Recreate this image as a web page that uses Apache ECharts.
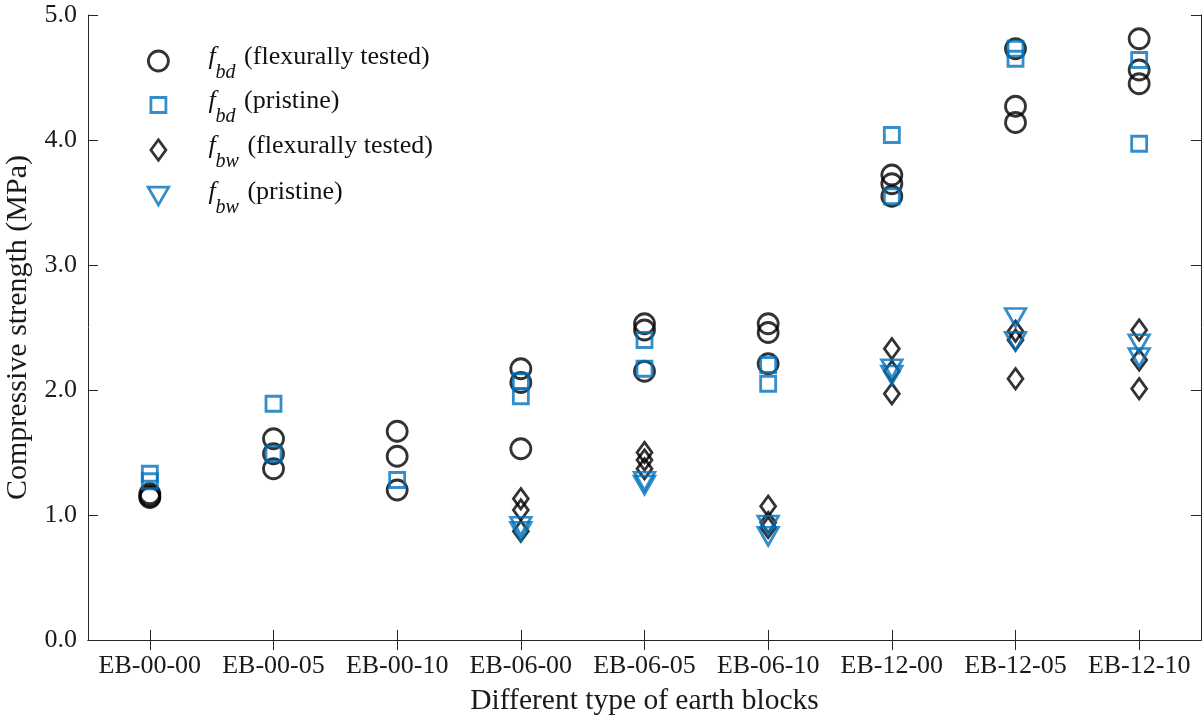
<!DOCTYPE html>
<html><head><meta charset="utf-8">
<script src="https://cdn.jsdelivr.net/npm/echarts@6/dist/echarts.min.js"></script>
<style>html,body{margin:0;padding:0;background:#fff}#c{width:1203px;height:719px}</style>
</head><body><div id="c"></div>
<script>
const categories = ['EB-00-00','EB-00-05','EB-00-10','EB-06-00','EB-06-05','EB-06-10','EB-12-00','EB-12-05','EB-12-10'];
const yMin = 0, yMax = 5, yStep = 1;
// values per category
const fbdFlexural = [[1.17,1.15,1.14],[1.61,1.49,1.37],[1.67,1.47,1.20],[2.17,2.06,1.53],[2.53,2.48,2.15],[2.53,2.46,2.21],[3.72,3.65,3.55],[4.73,4.27,4.14],[4.81,4.56,4.45]];
const fbdPristine = [[1.33,1.27],[1.89,1.49],[1.28],[2.07,1.95],[2.40,2.17],[2.20,2.05],[4.04,3.55],[4.73,4.65],[4.64,3.97]];
const fbwFlexural = [[],[],[],[1.13,1.04,0.87],[1.50,1.44,1.37],[1.07,0.94,0.90],[2.33,2.15,1.97],[2.47,2.40,2.09],[2.48,2.24,2.01]];
const fbwPristine = [[],[],[],[0.91,0.87],[1.27,1.24],[0.92,0.83],[2.17,2.12],[2.58,2.39],[2.37,2.26]];
const seriesNames = ['fbd (flexurally tested)','fbd (pristine)','fbw (flexurally tested)','fbw (pristine)'];
const legendSub = ['bd','bd','bw','bw'];
const legendRest = [' (flexurally tested)',' (pristine)',' (flexurally tested)',' (pristine)'];

function pairs(arr){ const out=[]; arr.forEach((vals,i)=>vals.forEach(v=>out.push([i,v]))); return out; }

const FONT = 'Liberation Serif';
const TXT = '#1a1a1a';
const AX = '#262626';
const BLUE = '#0072BD';
const DOWN_TRI = 'path://M0,0L22,0L11,19Z';

const styles = [
  {symbol:'circle', size:20, color:'#000', lw:20, lh:20},
  {symbol:'rect', size:15, color:BLUE, lw:15, lh:15},
  {symbol:'diamond', size:[15,20.5], color:'#000', lw:15, lh:20.5},
  {symbol:DOWN_TRI, size:[20.5,18], color:BLUE, lw:20.5, lh:18}
];
const dataSets = [fbdFlexural, fbdPristine, fbwFlexural, fbwPristine];
const legendRowY = [62, 106, 151, 197];

const series = dataSets.map((d,k)=>({
  name: seriesNames[k], type:'scatter', xAxisIndex:0, yAxisIndex:0,
  symbol: styles[k].symbol, symbolSize: styles[k].size,
  itemStyle:{color:'rgba(0,0,0,0)', borderColor: styles[k].color, borderWidth:2.8},
  emphasis:{disabled:true}, animation:false,
  data: pairs(d)
}));

const legends = seriesNames.map((n,k)=>{
  const st = styles[k];
  return {
    data:[n], orient:'vertical', padding:0,
    left: 157 - st.lw/2, top: legendRowY[k] - 23,
    itemWidth: st.lw, itemHeight: st.lh, selectedMode:false,
    itemStyle:{color:'rgba(0,0,0,0)', borderColor: st.color, borderWidth:2.8},
    formatter: ()=> '{f|f}{s|'+legendSub[k]+'}{t|'+legendRest[k]+'}',
    textStyle:{
      color:'#111',
      rich:{
        f:{fontFamily:FONT, fontStyle:'italic', fontSize:26, lineHeight:30, padding:[0,0,8, 45 - st.lw/2], color:'#111'},
        s:{fontFamily:FONT, fontStyle:'italic', fontSize:20, lineHeight:22, padding:[24,0,0,0], color:'#111'},
        t:{fontFamily:FONT, fontSize:26, lineHeight:30, padding:[0,0,8,2], color:'#111'}
      }
    }
  };
});

const chart = echarts.init(document.getElementById('c'), null, {renderer:'canvas'});
chart.setOption({
  backgroundColor:'#fff',
  animation:false,
  grid:{left:88, right:2, top:15, bottom:79, containLabel:false, outerBoundsMode:'none'},
  legend: legends,
  xAxis:[
    {type:'category', data:categories, position:'bottom', boundaryGap:true,
     axisLine:{show:true, lineStyle:{color:AX, width:1}},
     axisTick:{show:true, inside:true, length:10, alignWithLabel:true, lineStyle:{color:AX}},
     axisLabel:{color:TXT, fontFamily:FONT, fontSize:26, margin:13, interval:0},
     splitLine:{show:false},
     name:'Different type of earth blocks', nameLocation:'middle', nameGap:46,
     nameTextStyle:{color:TXT, fontFamily:FONT, fontSize:29.5}},
    {type:'category', data:categories, position:'top', boundaryGap:true,
     axisLine:{show:true, lineStyle:{color:AX, width:1}},
     axisTick:{show:true, inside:true, length:10, alignWithLabel:true, lineStyle:{color:AX}},
     axisLabel:{show:false}, splitLine:{show:false}}
  ],
  yAxis:[
    {type:'value', min:yMin, max:yMax, interval:yStep, position:'left',
     axisLine:{show:true, lineStyle:{color:AX, width:1}},
     axisTick:{show:true, inside:true, length:10, lineStyle:{color:AX}},
     axisLabel:{color:TXT, fontFamily:FONT, fontSize:26, margin:11, formatter:v=>v.toFixed(1)},
     splitLine:{show:false},
     name:'Compressive strength (MPa)', nameLocation:'middle', nameGap:44,
     nameTextStyle:{color:TXT, fontFamily:FONT, fontSize:30}},
    {type:'value', min:yMin, max:yMax, interval:yStep, position:'right',
     axisLine:{show:true, lineStyle:{color:AX, width:1}},
     axisTick:{show:true, inside:true, length:10, lineStyle:{color:AX}},
     axisLabel:{show:false}, splitLine:{show:false}}
  ],
  series: series
});
</script></body></html>
